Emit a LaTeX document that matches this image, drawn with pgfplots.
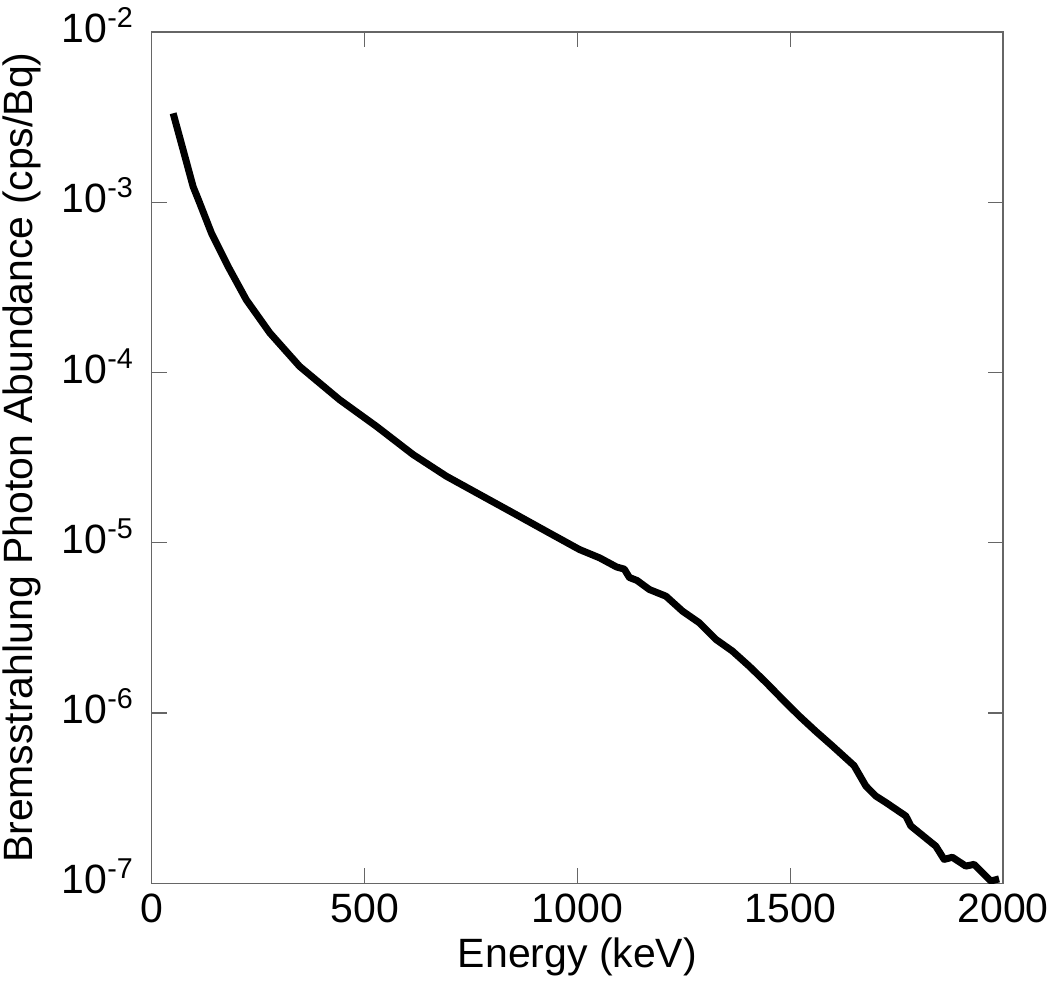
\documentclass[border=0pt]{standalone}
\usepackage{fontspec}
\setmainfont{Liberation Sans}
\usepackage{pgfplots}
\pgfplotsset{compat=1.18}
\begin{document}
\begin{tikzpicture}
\begin{axis}[
  name=ax,
  scale only axis, width=426pt, height=426pt,
  xmin=0, xmax=2000, ymode=log, ymin=1e-7, ymax=1e-2,
  xtick={0,500,1000,1500,2000},
  ytick={1e-7,1e-6,1e-5,1e-4,1e-3,1e-2},
  yticklabels={10\textsuperscript{-7},10\textsuperscript{-6},10\textsuperscript{-5},10\textsuperscript{-4},10\textsuperscript{-3},10\textsuperscript{-2}},
  yminorticks=false,
  tick align=inside, major tick length=7.5pt,
  axis line style={draw=black!60, line width=0.6pt},
  every tick/.style={draw=black!60, line width=0.6pt},
  ticklabel style={font=\fontsize{20.5}{24}\selectfont},
  label style={font=\fontsize{20.5}{24}\selectfont},
  xticklabel shift=2pt,
  yticklabel style={anchor=base east, yshift=-5.3pt},
  yticklabel shift=5.5pt,
  xlabel shift=0.5pt, ylabel shift=3.5pt,
  /pgf/number format/assume math mode=true,
  /pgf/number format/1000 sep={},
  xlabel={Energy (keV)},
  ylabel={Bremsstrahlung Photon Abundance (cps/Bq)},
]
\addplot[black, line width=3.5pt, line join=round, line cap=butt] coordinates {
(50,3.33e-3) (73.5,2.03e-3) (96.9,1.236e-3) (111,1.01e-3) (140,6.59e-4)
(179,4.20e-4) (222,2.67e-4) (277,1.71e-4) (347,1.087e-4) (441,6.92e-5)
(527.5,4.83e-5) (613.4,3.30e-5) (691.8,2.46e-5) (770,1.92e-5) (848,1.50e-5)
(926.5,1.168e-5) (1004.7,9.12e-6) (1052,8.15e-6) (1092,7.2e-6) (1110,7.0e-6)
(1122,6.25e-6) (1140,6.0e-6) (1169,5.31e-6) (1208,4.85e-6) (1247,3.96e-6)
(1286,3.39e-6) (1325.6,2.70e-6) (1364,2.31e-6) (1403.8,1.88e-6) (1443,1.51e-6)
(1482,1.2e-6) (1521,9.60e-7) (1560,7.8e-7) (1599,6.40e-7) (1638,5.22e-7)
(1650,4.9e-7) (1677.7,3.72e-7) (1701,3.25e-7) (1724.6,2.98e-7) (1771.6,2.48e-7)
(1783.3,2.17e-7) (1842,1.65e-7) (1861.5,1.38e-7) (1881,1.42e-7) (1912.4,1.26e-7)
(1932,1.29e-7) (1971,1.03e-7) (1990.6,1.06e-7)
};
\end{axis}
\pgfresetboundingbox
\useasboundingbox ([shift={(-76pt,-54.5pt)}]ax.south west) rectangle ([shift={(23.5pt,16pt)}]ax.north east);
\end{tikzpicture}
\end{document}
